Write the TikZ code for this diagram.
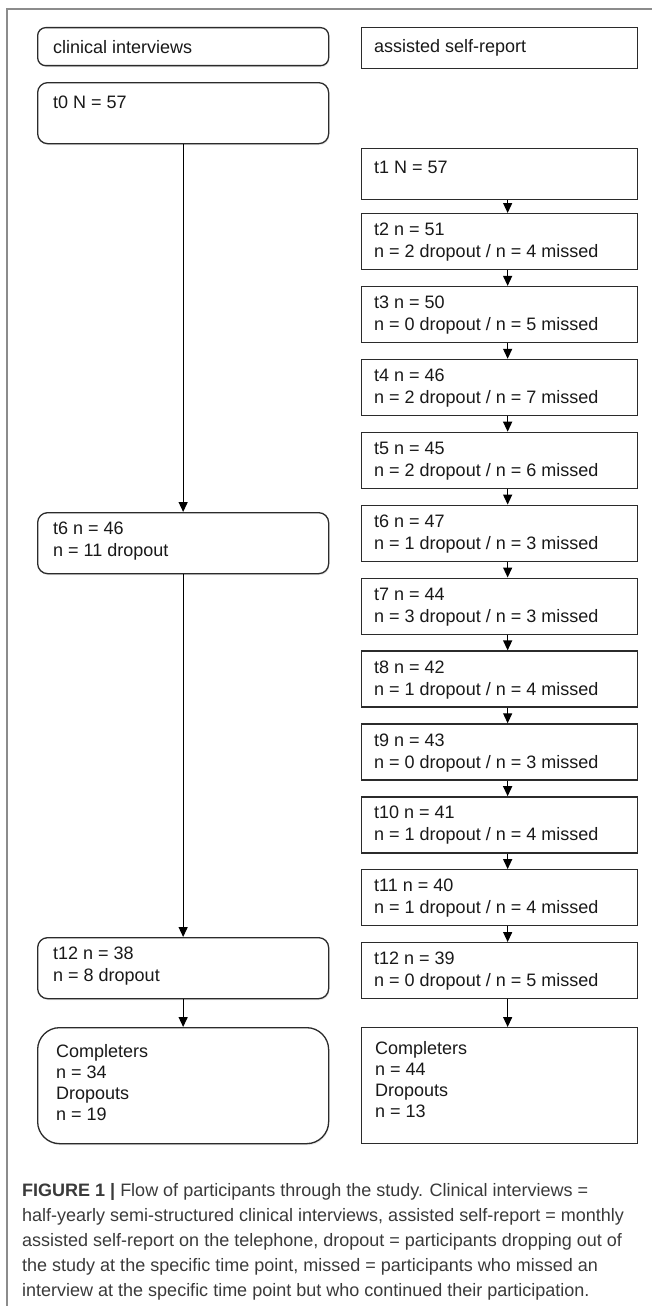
\documentclass[tikz,border=0pt]{standalone}
\usepackage{fontspec}
\setmainfont{Liberation Sans}
\usetikzlibrary{arrows.meta,positioning,shadows}
\definecolor{framegray}{HTML}{8C8C8C}
\definecolor{boxline}{HTML}{2B2B2B}
\definecolor{captext}{HTML}{3A3A3A}
\tikzset{
  sbox/.style={draw=boxline, line width=1.3pt, minimum width=276pt, anchor=north west, inner sep=0pt},
  rbox/.style={draw=boxline, fill=white, line width=1.3pt, rounded corners=10pt, minimum width=291pt, anchor=north west, inner sep=0pt,
    drop shadow={opacity=0.18, shadow xshift=0.8pt, shadow yshift=-1.5pt}},
  txt/.style={anchor=north west, align=left, inner sep=0pt, font=\fontsize{18}{22}\selectfont, text=black!90},
  flow/.style={-{Triangle[width=9pt,length=10pt]}, line width=1.3pt}
}
\begin{document}
\begin{tikzpicture}[x=1pt,y=-1pt]
    \useasboundingbox (0,0) rectangle (652,1306);
    \draw[framegray, line width=2pt] (7,1306) -- (7,9) -- (652,9);
    % clinical interviews
    \node[rbox, rounded corners=8pt, minimum height=38pt] (clin) at (37,27) {};
    \node[txt, anchor=west] (clin-txt) at ([xshift=16pt]clin.west) {clinical interviews};
    \node[rbox, minimum height=61pt] (t0) at (37,82) {};
    \node[txt] (t0-txt) at ([shift={(16,14)}]t0.north west) {t0 N = 57};
    \node[rbox, minimum height=61pt] (t6L) at (37,512) {};
    \node[txt] (t6L-txt) at ([shift={(16,10)}]t6L.north west) {t6 n = 46\\n = 11 dropout};
    \node[rbox, minimum height=61pt] (t12L) at (37,937) {};
    \node[txt] (t12L-txt) at ([shift={(16,10)}]t12L.north west) {t12 n = 38\\n = 8 dropout};
    \node[rbox, rounded corners=22pt, minimum height=116pt] (complL) at (37,1027) {};
    \node[txt, font=\fontsize{18}{21}\selectfont] (complL-txt) at ([shift={(19,17)}]complL.north west) {Completers\\n = 34\\Dropouts\\n = 19};
    \draw[flow] (t0) -- (t6L);
    \draw[flow] (t6L) -- (t12L);
    \draw[flow] (t12L) -- (complL);
    % assisted self-report
    \node[sbox, minimum height=41pt] (asr) at (361,27) {};
    \node[txt, anchor=west] (asr-txt) at ([xshift=13pt]asr.west) {assisted self-report};
    \node[sbox, minimum height=51pt] (tR1) at (361,148) {};
    \node[txt] (tR1-txt) at ([shift={(13,13)}]tR1.north west) {t1 N = 57};
    \foreach \k/\n/\d/\m in {2/51/2/4, 3/50/0/5, 4/46/2/7, 5/45/2/6, 6/47/1/3, 7/44/3/3, 8/42/1/4, 9/43/0/3, 10/41/1/4, 11/40/1/4, 12/39/0/5}{
        \node[sbox, minimum height=56pt] (tR\k) at (361,{213+(\k-2)*72.9}) {};
        \node[txt] (tR\k-txt) at ([shift={(13,10)}]tR\k.north west) {t\k{} n = \n\\n = \d{} dropout / n = \m{} missed};
    }
    \foreach \k [evaluate=\k as \j using int(\k-1)] in {2,...,12}
        \draw[flow] ([xshift=8pt]tR\j.south) -- ([xshift=8pt]tR\k.north);
    \node[sbox, minimum height=116pt] (complR) at (361,1027) {};
    \node[txt, font=\fontsize{18}{21}\selectfont] (complR-txt) at ([shift={(14,14)}]complR.north west) {Completers\\n = 44\\Dropouts\\n = 13};
    \draw[flow] ([xshift=8pt]tR12.south) -- ([xshift=8pt]complR.north);
    % caption
    \node[txt, font=\fontsize{18}{25}\selectfont, text=captext] (caption) at (22,1183) {\textbf{FIGURE 1 |} Flow of participants through the study. Clinical interviews =\\half-yearly semi-structured clinical interviews, assisted self-report = monthly\\assisted self-report on the telephone, dropout = participants dropping out of\\the study at the specific time point, missed = participants who missed an\\interview at the specific time point but who continued their participation.};
\end{tikzpicture}
\end{document}
